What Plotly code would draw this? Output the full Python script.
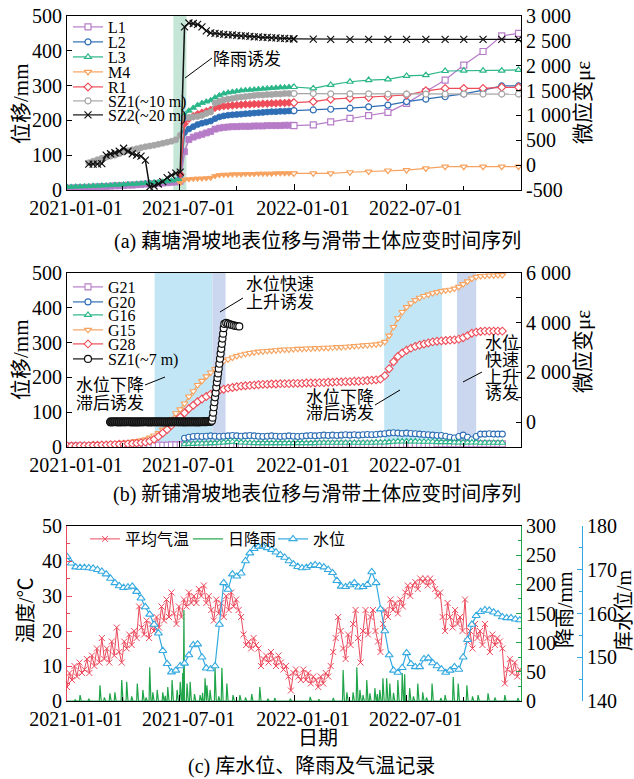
import pandas as pd
import plotly.graph_objects as go

W, H = 634, 779
FONT = "Liberation Serif, Noto Sans CJK SC, serif"

# plot-area edges in pixels (shared by the three panels)
X0, X1 = 67, 521
A_TOP, A_BOT = 16, 190
B_TOP, B_BOT = 273, 447
C_TOP, C_BOT = 526, 701


def px(x):
    return x / W


def py(y):
    return 1 - y / H


# ---------------- (a) 藕塘滑坡: displacement (mm) and strain (με) ----------------
a_week_start = "2021-01-01"  # weekly readings through 2021 (53 weeks)
a_month_dates = ["2022-01-01", "2022-02-01", "2022-03-01", "2022-04-01", "2022-05-01",
                 "2022-06-01", "2022-07-01", "2022-08-01", "2022-09-01", "2022-10-01",
                 "2022-11-01", "2022-12-01", "2022-12-28"]
N = None
a_L1_week = [5, 6, 6, 7, 7, 8, 8, 9, 10, 10, 11, 12, 12, 13, 14, 14, 15, 16, 17, 18, 18, 19, 20, 21,
             22, 23, 25, 110, 145, 152, 156, 160, 164, 168, 175, 178, 180, 181, 182, 182, 183, 183,
             183, 184, 184, 184, 185, 185, 185, 185, 186, 186, 186]
a_L2_week = [N] * 26 + [40, 165, 175, 182, 188, 192, 195, 198, 205, 210, 213, 215, 216, 217, 218,
                        219, 220, 221, 222, 223, 224, 225, 225, 226, 226, 227, 227]
a_L3_week = [9, 9, 10, 10, 11, 11, 12, 12, 13, 13, 14, 15, 15, 16, 17, 17, 18, 19, 20, 21, 22, 23,
             24, 25, 27, 28, 30, 215, 228, 236, 244, 250, 254, 258, 266, 272, 277, 280, 282, 284,
             286, 287, 288, 289, 290, 291, 292, 293, 294, 295, 295, 296, 296]
a_M4_week = [N] * 26 + [20, 30, 31, 32, 33, 33, 34, 35, 40, 43, 44, 44, 45, 45, 45, 46, 46, 46, 47,
                        47, 47, 47, 48, 48, 48, 48, 48]
a_R1_week = [N] * 26 + [45, 190, 205, 212, 218, 222, 226, 230, 236, 239, 241, 242, 243, 244, 245,
                        246, 246, 247, 247, 248, 248, 249, 249, 250, 250, 251, 251]
a_SZ1_week = [N] * 5 + [50, 80, 110, 140, 160, 180, 200, 230, 260, 290, 310, 330, 350, 370, 385,
                        400, 420, 440, 460, 480, 510, 600, 950, 960, 970, 980, 1000, 1040, 1070,
                        1250, 1280, 1310, 1330, 1340, 1360, 1370, 1380, 1390, 1400, 1410, 1410,
                        1420, 1420, 1430, 1430, 1440, 1440, 1440]
a_SZ2_week = [N] * 5 + [20, 20, 20, 30, 200, 230, 250, 280, 340, 280, 230, 200, 180, 100, -440,
                        -420, -380, -330, -250, -200, -160, -140, 2780, 2860, 2850, 2830, 2780,
                        2700, 2660, 2650, 2640, 2630, 2620, 2620, 2610, 2600, 2600, 2590, 2580,
                        2580, 2570, 2570, 2560, 2560, 2550, 2550, 2540, 2540]
a_L1_month = [185, 187, 196, 206, 214, 223, 249, 283, 316, 359, 398, 443, 450]
a_L2_month = [228, 230, 232, 235, 239, 244, 254, 261, 268, 276, 287, 299, 299]
a_L3_month = [296, 292, 302, 311, 316, 318, 328, 330, 342, 343, 343, 343, 345]
a_M4_month = [48, 48, 48, 51, 53, 56, 57, 62, 67, 67, 67, 67, 67]
a_R1_month = [251, 254, 261, 264, 266, 268, 273, 285, 292, 292, 292, 295, 295]
a_SZ1_month = [1440, 1440, 1435, 1435, 1435, 1430, 1430, 1430, 1430, 1430, 1430, 1430, 1430]
a_SZ2_month = [2540, 2535, 2530, 2530, 2530, 2530, 2530, 2530, 2530, 2530, 2530, 2530, 2530]
a_rain_window = ("2021-06-21", "2021-07-12")

# ---------------- (b) 新铺滑坡 ----------------
b_week_start = "2021-01-01"  # weekly readings, 101 weeks
b_G21 = [3, 3, 3, 3, 3, 3, 3, 4, 4, 4, 4, 4, 4, 4, 4, 5, 5, 5, 5, 5, 5, 5, 5, 5, 6, 6, 6, 6, 6, 6,
         6, 6, 6, 6, 6, 6, 6, 6, 7, 7, 7, 7, 7, 7, 7, 7, 7, 7, 7, 7, 7, 7, 7, 7, 7, 7, 7, 8, 8, 8,
         8, 8, 8, 8, 8, 8, 8, 8, 8, 8, 8, 8, 8, 8, 8, 8, 8, 8, 8, 8, 8, 8, 8, 8, 8, 9, 9, 9, 9, 9,
         9, 9, 9, 9, 9, 9, 9, 9, 9, 9, 9]
b_G20 = [N] * 27 + [25, 28, 30, 31, 30, 31, 32, 31, 30, 31, 32, 33, 32, 31, 32, 33, 32, 31, 30, 31,
                    32, 31, 30, 31, 32, 31, 30, 31, 32, 33, 32, 33, 34, 33, 34, 33, 34, 35, 34, 35,
                    34, 35, 36, 35, 36, 37, 38, 40, 41, 40, 39, 40, 39, 38, 37, 36, 35, 34, 33, 33,
                    31, 28, 26, 30, 34, 28, 21, 30, 37, 37, 38, 37, 37, 37]
b_G16 = [N] * 27 + [8, 9, 9, 10, 10, 10, 11, 11, 12, 13, 14, 15, 14, 13, 12, 12, 11, 11, 11, 11,
                    11, 11, 11, 11, 11, 11, 11, 11, 11, 11, 11, 12, 12, 12, 12, 12, 12, 12, 12, 12,
                    12, 12, 12, 12, 13, 13, 13, 14, 15, 16, 16, 16, 16, 16, 15, 15, 15, 15, 14, 14,
                    14, 14, 13, 13, 13, 13, 13, 13, 12, 12, 12, 12, 12, 12]
b_G15 = [3, 3, 4, 4, 5, 5, 6, 6, 7, 8, 9, 10, 11, 12, 13, 15, 17, 19, 22, 27,
         33, 40, 50, 65, 80, 97, 108, 125, 145, 160, 178, 190, 203, 214, 224, 235, 247, 252, 257, 261,
         265, 268, 270, 272, 274, 275, 276, 277, 278, 279, 280, 280, 281, 282, 282, 283, 283, 284, 284, 285,
         285, 286, 287, 287, 288, 289, 290, 291, 292, 293, 294, 295, 297, 302, 320, 345, 370, 388, 402, 413,
         422, 429, 434, 438, 442, 445, 448, 450, 452, 455, 460, 468, 476, 484, 489, 491, 492, 493, 493, 494,
         494]
b_G28 = [3, 3, 3, 4, 4, 4, 5, 5, 6, 6, 7, 7, 8, 8, 9, 10, 11, 12, 14, 17,
         22, 30, 40, 50, 62, 75, 86, 98, 110, 120, 130, 138, 145, 152, 158, 163, 166, 169, 171, 173,
         175, 176, 177, 178, 179, 180, 180, 181, 181, 182, 182, 182, 183, 183, 183, 184, 184, 184, 185, 185,
         186, 186, 187, 187, 188, 188, 189, 189, 190, 191, 192, 193, 195, 205, 225, 245, 260, 270, 278, 284,
         289, 293, 296, 299, 302, 304, 305, 306, 307, 308, 310, 314, 320, 327, 330, 332, 333, 333, 333, 333,
         333]
# SZ1 (~7 m) strain: twice-weekly while steady, daily during the surge, then every 3 days
b_SZ1_flat_start = "2021-03-12"
b_SZ1_flat = [10, 12, 15, 14, 10, 11, 12, 14, 15, 13, 10, 9, 8, 10, 12, 13, 15, 14, 10, 11,
              12, 13, 14, 12, 10, 9, 8, 10, 12, 14, 15, 13, 12, 11, 10, 12, 14, 13, 12, 11,
              10, 12, 15, 18, 20, 25, 30]
b_SZ1_rise_start = "2021-08-22"
b_SZ1_rise = [60, 180, 380, 600, 800, 1000, 1180, 1400, 1600, 1780, 1960, 2150, 2350, 2550, 2760,
              2950, 3150, 3360, 3560, 3780, 3950]
b_SZ1_top_start = "2021-09-14"
b_SZ1_top = [3990, 3960, 3930, 3910, 3890, 3870, 3860, 3850]
b_drop_windows = [("2021-05-22", "2021-08-23"), ("2022-05-26", "2022-08-27")]
b_rise_windows = [("2021-08-23", "2021-09-13"), ("2022-09-20", "2022-10-21")]

# ---------------- (c) reservoir level, rainfall, air temperature ----------------
c_temp_start = "2021-01-01"  # every 4 days
c_temp = [4, 8, 6, 10, 7, 11, 8, 9, 12, 8, 13, 10, 15, 11, 18, 12, 15, 11, 17, 13,
          21, 14, 11, 17, 15, 19, 16, 20, 18, 27, 21, 19, 23, 18, 22, 20, 24, 21, 27, 23,
          29, 24, 31, 25, 22, 27, 24, 29, 27, 31, 28, 30, 28, 32, 30, 33, 28, 30, 26, 23,
          29, 25, 28, 24, 30, 26, 31, 27, 29, 26, 24, 19, 16, 17, 15, 18, 16, 15, 10, 12,
          13, 11, 14, 12, 10, 13, 11, 9, 10, 7, 3, 8, 9, 7, 6, 9, 6, 8, 5, 7,
          6, 4, 7, 5, 8, 7, 10, 14, 18, 24, 20, 15, 12, 19, 16, 22, 26, 18, 11, 20,
          26, 19, 24, 26, 20, 17, 14, 22, 26, 24, 29, 26, 28, 25, 29, 27, 31, 33, 30, 33,
          34, 32, 35, 34, 35, 33, 35, 34, 32, 30, 31, 24, 20, 28, 24, 21, 26, 22, 24, 20,
          29, 17, 20, 15, 22, 18, 20, 16, 22, 18, 14, 19, 16, 18, 17, 15, 5, 9, 12, 8,
          11, 7, 9]
c_level_start = "2021-01-01"  # weekly
c_level = [173.0, 171.5, 170.6, 170.5, 170.5, 170.4, 170.3, 170.0, 169.6, 169.0,
           168.0, 167.0, 166.3, 165.9, 166.0, 166.2, 165.0, 163.5, 161.5, 159.8,
           157.5, 155.5, 151.5, 148.5, 146.6, 147.0, 148.0, 148.6, 150.5, 152.8,
           153.0, 150.0, 147.5, 147.3, 148.0, 157.5, 167.0, 165.5, 169.0, 168.5,
           169.2, 172.0, 173.8, 174.8, 175.3, 175.4, 175.0, 174.6, 174.0, 173.4,
           172.8, 172.0, 171.3, 170.7, 170.4, 170.5, 170.9, 171.1, 170.9, 170.6,
           170.0, 169.3, 167.5, 166.2, 166.1, 166.5, 167.0, 166.0, 166.1, 166.6,
           169.5, 167.0, 161.0, 156.0, 150.5, 147.0, 146.5, 147.6, 151.0, 148.5,
           147.8, 147.8, 149.6, 149.8, 148.7, 148.0, 147.3, 146.5, 147.0, 147.8,
           147.2, 150.0, 154.0, 157.5, 159.5, 160.4, 160.8, 160.7, 160.3, 159.9,
           159.2, 159.0, 159.0, 158.7, 158.5]
c_rain_dates = ["2021-01-14", "2021-01-22", "2021-02-05", "2021-02-23", "2021-03-02", "2021-03-11",
                "2021-03-19", "2021-03-30", "2021-04-07", "2021-04-15", "2021-04-24", "2021-05-03",
                "2021-05-08", "2021-05-14", "2021-05-19", "2021-05-26", "2021-06-04", "2021-06-08",
                "2021-06-12", "2021-06-19", "2021-06-27", "2021-07-02", "2021-07-06", "2021-07-08",
                "2021-07-13", "2021-07-18", "2021-07-25", "2021-08-03", "2021-08-07", "2021-08-11",
                "2021-08-14", "2021-08-19", "2021-08-27", "2021-09-02", "2021-09-07", "2021-09-15",
                "2021-09-25", "2021-10-06", "2021-10-15", "2021-10-25", "2021-11-07", "2021-11-20",
                "2021-12-01", "2021-12-26", "2022-01-27", "2022-02-10", "2022-03-05", "2022-03-21",
                "2022-03-27", "2022-04-06", "2022-04-12", "2022-04-17", "2022-04-22", "2022-04-28",
                "2022-05-03", "2022-05-11", "2022-05-15", "2022-05-19", "2022-05-24", "2022-05-30",
                "2022-06-04", "2022-06-10", "2022-06-17", "2022-06-24", "2022-06-28", "2022-07-06",
                "2022-07-12", "2022-07-19", "2022-07-27", "2022-08-02", "2022-08-11", "2022-08-25",
                "2022-09-01", "2022-09-14", "2022-09-22", "2022-10-06", "2022-10-15", "2022-10-24",
                "2022-11-09", "2022-11-20", "2022-12-06", "2022-12-27"]
c_rain_mm = [2, 10, 4, 27, 6, 13, 15, 36, 33, 8, 30, 19, 6, 58, 15, 19, 15, 9, 24, 36, 19, 33, 48,
             156, 30, 33, 12, 10, 14, 39, 27, 19, 58, 8, 57, 30, 10, 10, 6, 12, 24, 4, 5, 4, 7, 3,
             5, 53, 15, 15, 58, 19, 10, 36, 13, 22, 12, 19, 39, 39, 30, 14, 36, 48, 46, 22, 8, 30,
             15, 6, 30, 5, 10, 41, 30, 27, 8, 10, 13, 6, 10, 5]

x_tick_dates = ["2021-01-01", "2021-07-01", "2022-01-01", "2022-07-01"]
x_minor_dates = ["2021-04-01", "2021-10-01", "2022-04-01", "2022-10-01"]
x_range = ["2021-01-01", "2023-01-01"]

# ---------------- styles ----------------
PURPLE, BLUE, GREEN = "#b77cc8", "#2f6eb5", "#2bb689"
ORANGE, RED, GRAY, BLACK = "#f7a25e", "#ee4c58", "#a6a6a6", "#111111"
T_RED, R_GREEN, W_BLUE = "#ec4a5c", "#21a54a", "#33a9e0"


def weekly(start, n):
    return pd.date_range(start, periods=n, freq="7D")


fig = go.Figure()

# ---- panel (a) traces ----
a_series = [
    ("L1", a_L1_week, a_L1_month, PURPLE, "square", "y"),
    ("L2", a_L2_week, a_L2_month, BLUE, "circle", "y"),
    ("L3", a_L3_week, a_L3_month, GREEN, "triangle-up", "y"),
    ("M4", a_M4_week, a_M4_month, ORANGE, "triangle-down", "y"),
    ("R1", a_R1_week, a_R1_month, RED, "diamond", "y"),
    ("SZ1(~10 m)", a_SZ1_week, a_SZ1_month, GRAY, "circle", "y2"),
    ("SZ2(~20 m)", a_SZ2_week, a_SZ2_month, BLACK, "x-thin", "y2"),
]
a_legends = ["legend", "legend2", "legend3", "legend4", "legend5", "legend6", "legend7"]
a_weeks = weekly(a_week_start, len(a_L1_week))
for (name, wk, mo, col, sym, yax), lg in zip(a_series, a_legends):
    thin = sym.endswith("-thin")
    fig.add_trace(go.Scatter(
        x=a_weeks, y=wk, xaxis="x", yaxis=yax, mode="lines+markers", showlegend=False,
        line=dict(color=col, width=1.5),
        marker=dict(symbol=sym, size=7 if thin else 6, color=col,
                    line=dict(color=col, width=1.2 if thin else 0.8))))
for (name, wk, mo, col, sym, yax), lg in zip(a_series, a_legends):
    thin = sym.endswith("-thin")
    fig.add_trace(go.Scatter(
        x=a_month_dates, y=mo, xaxis="x", yaxis=yax, mode="lines+markers", name=name, legend=lg,
        line=dict(color=col, width=1.2),
        marker=dict(symbol=sym, size=7 if thin else 6, color="white" if not thin else col,
                    line=dict(color=col, width=1.2))))

# ---- panel (b) traces ----
b_weeks = weekly(b_week_start, len(b_G15))
b_series = [
    ("G21", b_G21, PURPLE, "square"),
    ("G20", b_G20, BLUE, "circle"),
    ("G16", b_G16, GREEN, "triangle-up"),
    ("G15", b_G15, ORANGE, "triangle-down"),
    ("G28", b_G28, RED, "diamond"),
]
b_legends = ["legend8", "legend9", "legend10", "legend11", "legend12", "legend13"]
for (name, vals, col, sym), lg in zip(b_series, b_legends):
    fig.add_trace(go.Scatter(
        x=b_weeks, y=vals, xaxis="x2", yaxis="y3", mode="lines+markers", name=name, legend=lg,
        line=dict(color=col, width=1.2),
        marker=dict(symbol=sym, size=6, color="white", line=dict(color=col, width=1.1))))
# steady period: densely packed readings form a solid band
fig.add_trace(go.Scatter(
    x=pd.date_range(b_SZ1_flat_start, periods=len(b_SZ1_flat), freq="3.5D"), y=b_SZ1_flat,
    xaxis="x2", yaxis="y4", mode="lines+markers", showlegend=False,
    line=dict(color=BLACK, width=1.2),
    marker=dict(symbol="circle", size=8, color="#333333", line=dict(color=BLACK, width=1.2))))
b_sz1_x = list(pd.date_range(b_SZ1_rise_start, periods=len(b_SZ1_rise), freq="D")) + \
    list(pd.date_range(b_SZ1_top_start, periods=len(b_SZ1_top), freq="3D"))
fig.add_trace(go.Scatter(
    x=b_sz1_x, y=b_SZ1_rise + b_SZ1_top, xaxis="x2", yaxis="y4",
    mode="lines+markers", name="SZ1(~7 m)", legend=b_legends[5],
    line=dict(color=BLACK, width=1.2),
    marker=dict(symbol="circle", size=7, color="white", line=dict(color=BLACK, width=1.2))))

# ---- panel (c) traces ----
rain_daily = pd.Series(0.0, index=pd.date_range("2021-01-01", "2022-12-31", freq="D"))
rain_daily[pd.to_datetime(c_rain_dates)] = c_rain_mm
fig.add_trace(go.Scatter(
    x=pd.date_range(c_temp_start, periods=len(c_temp), freq="4D"), y=c_temp,
    xaxis="x3", yaxis="y5", mode="lines+markers", name="平均气温", legend="legend14",
    line=dict(color=T_RED, width=1),
    marker=dict(symbol="x-thin", size=6, color=T_RED, line=dict(color=T_RED, width=1))))
fig.add_trace(go.Scatter(
    x=rain_daily.index, y=rain_daily.values, xaxis="x3", yaxis="y6", mode="lines",
    name="日降雨", legend="legend15", line=dict(color=R_GREEN, width=1.2)))
fig.add_trace(go.Scatter(
    x=weekly(c_level_start, len(c_level)), y=c_level, xaxis="x3", yaxis="y7",
    mode="lines+markers", name="水位", legend="legend16",
    line=dict(color=W_BLUE, width=1.2),
    marker=dict(symbol="triangle-up", size=7, color="white", line=dict(color=W_BLUE, width=1.1))))

# ---------------- axes ----------------
tick_font = dict(family=FONT, size=20, color="black")


def x_axis(top, bot, anchor):
    return dict(type="date", range=x_range, domain=[px(X0), px(X1)], anchor=anchor,
                tickvals=x_tick_dates, ticktext=x_tick_dates, ticks="inside", ticklen=6,
                tickcolor="black", showline=True, linecolor="black", linewidth=1, mirror=True,
                showgrid=False, zeroline=False, tickfont=tick_font, ticklabelshift=9,
                automargin=False,
                minor=dict(tickvals=x_minor_dates, ticks="inside", ticklen=4, tickcolor="black"))


def y_axis(top, bot, anchor, rng, **kw):
    d = dict(domain=[py(bot), py(top)], anchor=anchor, range=rng, ticks="inside", ticklen=5,
             tickcolor="black", showline=True, linecolor="black", linewidth=1, showgrid=False,
             zeroline=False, tickfont=tick_font, automargin=False)
    d.update(kw)
    return d


def y_over(base, anchor, rng, color="black", **kw):
    d = dict(overlaying=base, side="right", anchor=anchor, range=rng, ticks="inside", ticklen=5,
             tickcolor=color, showline=True, linecolor=color, showgrid=False, zeroline=False,
             tickfont=tick_font, automargin=False)
    d.update(kw)
    return d


layout_axes = dict(
    xaxis=x_axis(A_TOP, A_BOT, "y"),
    yaxis=y_axis(A_TOP, A_BOT, "x", [0, 500], dtick=100),
    yaxis2=y_over("y", "x", [-500, 3000],
                  tickvals=[-500, 0, 500, 1000, 1500, 2000, 2500, 3000],
                  ticktext=["-500", "0", "500", "1 000", "1 500", "2 000", "2 500", "3 000"]),
    xaxis2=x_axis(B_TOP, B_BOT, "y3"),
    yaxis3=y_axis(B_TOP, B_BOT, "x2", [0, 500], dtick=100),
    yaxis4=y_over("y3", "x2", [-1000, 6000],
                  tickvals=[0, 2000, 4000, 6000], ticktext=["0", "2 000", "4 000", "6 000"],
                  minor=dict(tickvals=[-1000, 1000, 3000, 5000], ticks="inside", ticklen=5,
                             tickcolor="black")),
    xaxis3=x_axis(C_TOP, C_BOT, "y5"),
    yaxis5=y_axis(C_TOP, C_BOT, "x3", [0, 50], dtick=10, linecolor=T_RED, tickcolor=T_RED,
                  minor=dict(dtick=5, ticks="inside", ticklen=3, tickcolor=T_RED)),
    yaxis6=y_over("y5", "x3", [0, 300], color=R_GREEN, dtick=50,
                  minor=dict(dtick=25, ticks="inside", ticklen=3, tickcolor=R_GREEN)),
    yaxis7=y_over("y5", "free", [140, 180], color=W_BLUE, position=px(582), dtick=10,
                  minor=dict(dtick=5, ticks="inside", ticklen=3, tickcolor=W_BLUE)),
)

# ---------------- legends ----------------
legends = {}


def legend_at(x_px, y_px, size=16):
    return dict(x=px(x_px), y=py(y_px), xanchor="left", yanchor="middle",
                bgcolor="rgba(0,0,0,0)", borderwidth=0, itemwidth=30,
                font=dict(family=FONT, size=size, color="black"))


for lg, row in zip(a_legends, [27, 42, 57, 72, 87, 101, 115]):
    legends[lg] = legend_at(68, row)
for lg, row in zip(b_legends, [287, 302, 315, 330, 344, 359]):
    legends[lg] = legend_at(68, row)
legends["legend14"] = legend_at(85, 539)
legends["legend15"] = legend_at(188, 539)
legends["legend16"] = legend_at(273, 539)

# ---------------- shaded windows ----------------
shapes = [dict(type="rect", xref="x", yref="y domain", x0=a_rain_window[0], x1=a_rain_window[1],
               y0=0, y1=1, fillcolor="rgba(150,210,180,0.55)", line=dict(width=0), layer="below")]
for w in b_drop_windows:
    shapes.append(dict(type="rect", xref="x2", yref="y3 domain", x0=w[0], x1=w[1], y0=0, y1=1,
                       fillcolor="#c2e6f6", line=dict(width=0), layer="below"))
for w in b_rise_windows:
    shapes.append(dict(type="rect", xref="x2", yref="y3 domain", x0=w[0], x1=w[1], y0=0, y1=1,
                       fillcolor="#cad7ee", line=dict(width=0), layer="below"))

# leader lines from callouts
for (xa, ya, xb, yb) in [(212, 58, 185, 78), (243, 298, 220, 312), (145, 385, 165, 377),
                         (375, 405, 400, 390), (463, 382, 482, 372)]:
    shapes.append(dict(type="line", xref="paper", yref="paper", x0=px(xa), y0=py(ya),
                       x1=px(xb), y1=py(yb), line=dict(color="black", width=1)))

# ---------------- text ----------------
annotations = []


def text(x, y, s, size=17, angle=0, anchor="center"):
    annotations.append(dict(x=px(x), y=py(y), xref="paper", yref="paper", text=s,
                            showarrow=False, textangle=angle, xanchor=anchor, yanchor="middle",
                            font=dict(family=FONT, size=size, color="black")))


text(247, 60, "降雨诱发")
text(280, 284, "水位快速")
text(280, 302, "上升诱发")
text(110, 385, "水位下降")
text(110, 403, "滞后诱发")
text(340, 397, "水位下降")
text(340, 414, "滞后诱发")
for yy, s in zip([343, 360, 377, 394], ["水位", "快速", "上升", "诱发"]):
    text(502, yy, s)

text(21, 104, "位移/mm", size=21, angle=-90)
text(583, 103, "微应变με", size=21, angle=-90)
text(21, 360, "位移/mm", size=21, angle=-90)
text(583, 352, "微应变με", size=21, angle=-90)
text(26, 610, "温度/℃", size=20, angle=-90)
text(565, 610, "降雨/mm", size=20, angle=-90)
text(624, 610, "库水位/m", size=20, angle=-90)

text(317, 241, "(a) 藕塘滑坡地表位移与滑带土体应变时间序列", size=20)
text(317, 494, "(b) 新铺滑坡地表位移与滑带土体应变时间序列", size=20)
text(318, 738, "日期", size=20)
text(311, 766, "(c) 库水位、降雨及气温记录", size=20)

fig.update_layout(
    width=W, height=H, margin=dict(l=0, r=0, t=0, b=0),
    paper_bgcolor="white", plot_bgcolor="white",
    font=dict(family=FONT, color="black"),
    shapes=shapes, annotations=annotations,
    **layout_axes, **legends,
)

fig.write_html("out.html")
